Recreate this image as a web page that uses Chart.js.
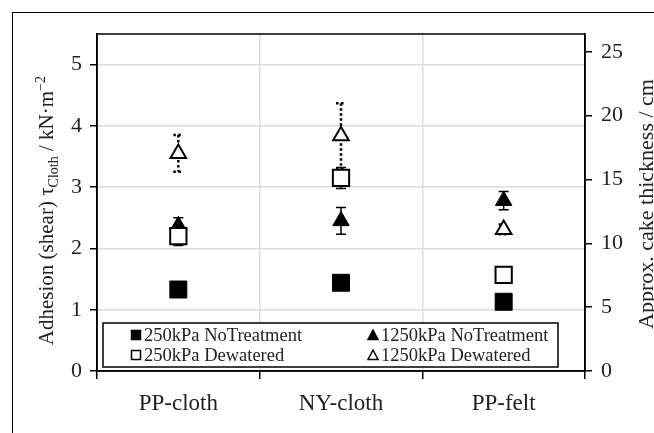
<!DOCTYPE html>
<html>
<head>
<meta charset="utf-8">
<script src="https://cdn.jsdelivr.net/npm/chart.js@4.4.1/dist/chart.umd.min.js"></script>
<style>
  body { margin: 0; background: #fff; overflow: hidden; }
  #wrap { position: relative; width: 654px; height: 433px; }
  #frame { position: absolute; left: 12px; top: 12px; width: 700px; height: 500px;
           border-left: 1.5px solid #000; border-top: 1.5px solid #000; }
  .ytitle { position: absolute; font-family: "Liberation Serif", serif; font-size: 21px;
            color: #222; white-space: nowrap; transform-origin: center center; }
  .ytitle sub { font-size: 14px; }
  .ytitle sup { font-size: 14px; }
</style>
</head>
<body>
<div id="wrap">
  <div id="frame"></div>
  <canvas id="chart" width="654" height="433"></canvas>
  <div class="ytitle" id="lt">Adhesion (shear) τ<sub>Cloth</sub> / kN·m<sup>−2</sup></div>
  <div class="ytitle" id="rt" style="font-size:22px">Approx. cake thickness / cm</div>
</div>
<script>
// adhesion.js

var categories = ['PP-cloth', 'NY-cloth', 'PP-felt'];

var nt250 = [1.33, 1.44, 1.13];
var nt250Err = [0.05, 0.06, 0.05];

var nt1250 = [2.37, 2.45, 2.78];
var nt1250Err = [0.13, 0.22, 0.15];

var dw250 = [2.2, 3.15, 1.57];
var dw250Err = [0.15, 0.17, 0.12];

var dw1250 = [3.55, 3.84, 2.31];
var dw1250Err = [0.3, 0.53, 0.08];

var leftTicks = [0, 1, 2, 3, 4, 5];
var rightTicks = [0, 5, 10, 15, 20, 25];

var serif = '"Liberation Serif", serif';

// error bars drawn from the y scale
var errorBars = {
    id: 'errorBars',
    beforeDatasetsDraw: function(chart) {
        var ctx = chart.ctx;
        var ys = chart.scales.y;
        chart.data.datasets.forEach(function(ds, i) {
            var meta = chart.getDatasetMeta(i);
            ctx.save();
            ctx.strokeStyle = '#000';
            ctx.lineWidth = ds.errDash ? 2.5 : 1.5;
            ctx.setLineDash(ds.errDash || []);
            meta.data.forEach(function(pt, j) {
                var v = ds.data[j], e = ds.err[j];
                var top = ys.getPixelForValue(v + e);
                var bot = ys.getPixelForValue(v - e);
                ctx.beginPath();
                ctx.moveTo(pt.x, top); ctx.lineTo(pt.x, bot);
                ctx.moveTo(pt.x - 5, top); ctx.lineTo(pt.x + 5, top);
                ctx.moveTo(pt.x - 5, bot); ctx.lineTo(pt.x + 5, bot);
                ctx.stroke();
            });
            ctx.restore();
        });
    }
};

// plot box + legend box inside the plot
var boxLegend = {
    id: 'boxLegend',
    afterDraw: function(chart) {
        var ctx = chart.ctx;
        var a = chart.chartArea;
        ctx.save();
        ctx.strokeStyle = '#000';
        ctx.lineWidth = 1.5;
        ctx.strokeRect(a.left, a.top, a.right - a.left, a.bottom - a.top);

        var bx = a.left + 6, by = a.bottom - 48, bw = 455, bh = 44;
        ctx.fillStyle = '#fff';
        ctx.fillRect(bx, by, bw, bh);
        ctx.strokeRect(bx, by, bw, bh);

        var cols = [bx + 33, bx + 270];
        var rows = [by + 12, by + 32];
        ctx.font = '18.5px ' + serif;
        ctx.textBaseline = 'middle';
        chart.data.datasets.forEach(function(ds, i) {
            var x = cols[ds.legCol], y = rows[ds.legRow];
            ctx.fillStyle = ds.backgroundColor;
            ctx.strokeStyle = '#000';
            ctx.lineWidth = 1.5;
            ctx.setLineDash([]);
            ctx.beginPath();
            if (ds.pointStyle === 'rect') {
                ctx.rect(x - 4.5, y - 4.5, 9, 9);
            } else {
                ctx.moveTo(x, y - 5); ctx.lineTo(x + 5, y + 4.5); ctx.lineTo(x - 5, y + 4.5); ctx.closePath();
            }
            ctx.fill(); ctx.stroke();
            ctx.fillStyle = '#222';
            ctx.fillText(ds.label, x + 8, y + 1);
        });
        ctx.restore();
    }
};

var ctx = document.getElementById('chart');
var myChart = new Chart(ctx, {
    type: 'line',
    data: {
        labels: categories,
        datasets: [
            { label: '250kPa NoTreatment', data: nt250, err: nt250Err, pointStyle: 'rect', pointRadius: 12,
              backgroundColor: '#000', borderColor: '#000', borderWidth: 1, order: 4, legCol: 0, legRow: 0 },
            { label: '1250kPa NoTreatment', data: nt1250, err: nt1250Err, pointStyle: 'triangle', pointRadius: 9.5,
              backgroundColor: '#000', borderColor: '#000', borderWidth: 1, order: 3, legCol: 1, legRow: 0 },
            { label: '250kPa Dewatered', data: dw250, err: dw250Err, pointStyle: 'rect', pointRadius: 11.5,
              backgroundColor: '#fff', borderColor: '#000', borderWidth: 2, order: 1, legCol: 0, legRow: 1 },
            { label: '1250kPa Dewatered', data: dw1250, err: dw1250Err, errDash: [2.5, 2.5], pointStyle: 'triangle', pointRadius: 9,
              backgroundColor: '#fff', borderColor: '#000', borderWidth: 2, order: 2, legCol: 1, legRow: 1 }
        ]
    },
    options: {
        responsive: false,
        animation: false,
        showLine: false,
        layout: { padding: { top: 34, left: 0, right: 0, bottom: 0 } },
        plugins: { legend: { display: false }, tooltip: { enabled: false } },
        scales: {
            x: {
                offset: true,
                grid: { offset: true, color: '#dcdcdc', tickColor: '#000', tickLength: 8, lineWidth: 1.5 },
                border: { color: '#000', width: 1.5 },
                ticks: { color: '#222', font: { family: serif, size: 23 }, padding: 11 },
                afterFit: function(s) { s.height = 62; }
            },
            y: {
                position: 'left', min: 0, max: 5.5,
                afterBuildTicks: function(s) { s.ticks = leftTicks.map(function(v) { return { value: v }; }); },
                grid: { color: '#dcdcdc', tickColor: '#000', tickLength: 7, lineWidth: 1.5 },
                border: { color: '#000', width: 1.5 },
                ticks: { color: '#222', font: { family: serif, size: 22 }, padding: 8 },
                afterFit: function(s) { s.width = 97; }
            },
            y2: {
                position: 'right', min: 0, max: 26.4,
                afterBuildTicks: function(s) { s.ticks = rightTicks.map(function(v) { return { value: v }; }); },
                grid: { drawOnChartArea: false, tickColor: '#000', tickLength: 7, lineWidth: 1.5 },
                border: { color: '#000', width: 1.5 },
                ticks: { color: '#222', font: { family: serif, size: 22 }, padding: 9 },
                afterFit: function(s) { s.width = 69; }
            }
        }
    },
    plugins: [errorBars, boxLegend]
});

// rotated axis titles
function placeTitle(id, cx, cy) {
    var el = document.getElementById(id);
    var w = el.offsetWidth, h = el.offsetHeight;
    el.style.left = (cx - w / 2) + 'px';
    el.style.top = (cy - h / 2) + 'px';
    el.style.transform = 'rotate(-90deg)';
}
placeTitle('lt', 47, 210);
placeTitle('rt', 646, 204);
</script>
</body>
</html>
